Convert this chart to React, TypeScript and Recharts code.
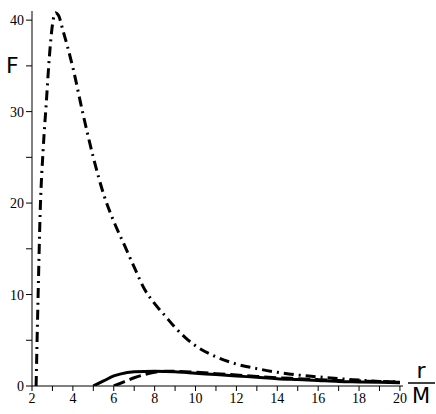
import React from 'react';
import { Line, LineChart, XAxis, YAxis } from 'recharts';

// r/M values and F for the three curves
const dashDotR = [2.2, 2.3, 2.4, 2.55, 2.7, 2.85, 3.0, 3.15, 3.3, 3.5, 4, 4.5, 5, 5.5, 6, 6.5, 7, 7.5, 8, 8.5, 9, 9.5, 10, 11, 12, 13, 14, 15, 16, 17, 18, 19, 20];
const dashDotF = [0, 10, 19, 26, 31, 36, 39.5, 40.8, 40.5, 39, 34.8, 29.7, 25, 21, 18, 15.5, 13, 10.6, 9.0, 7.7, 6.4, 5.3, 4.4, 3.2, 2.4, 1.9, 1.5, 1.2, 1.0, 0.8, 0.65, 0.5, 0.4];

const solidR = [5, 5.5, 6, 6.3, 7, 8, 9, 10, 11, 12, 13, 14, 15, 16, 17, 18, 19, 20];
const solidF = [0, 0.55, 1.1, 1.3, 1.55, 1.6, 1.55, 1.4, 1.25, 1.1, 0.95, 0.8, 0.7, 0.6, 0.5, 0.45, 0.4, 0.35];

const dashedR = [6, 6.5, 7, 7.5, 8, 8.5, 9, 10, 11, 12, 13, 14, 15, 16, 17, 18, 19, 20];
const dashedF = [0, 0.45, 0.9, 1.25, 1.5, 1.6, 1.6, 1.5, 1.35, 1.2, 1.05, 0.9, 0.8, 0.7, 0.6, 0.55, 0.5, 0.45];

const xTicks = [2, 3, 4, 5, 6, 7, 8, 9, 10, 11, 12, 13, 14, 15, 16, 17, 18, 19, 20];
const yTicks = [0, 5, 10, 15, 20, 25, 30, 35, 40];

const toPoints = (rs: number[], fs: number[]) => rs.map((r, i) => ({ r, F: fs[i] }));

const dashDot = toPoints(dashDotR, dashDotF);
const solid = toPoints(solidR, solidF);
const dashed = toPoints(dashedR, dashedF);

const tickStyle = { fontFamily: '"Liberation Serif", serif', fontSize: 14, fill: '#000' };
const labelFont = '"DejaVu Sans", sans-serif';

export default function App() {
  return (
    <div style={{ position: 'absolute', left: 0, top: 0, width: 436, height: 414, background: '#fff' }}>
      <LineChart width={436} height={414} margin={{ top: 11, right: 33, bottom: 0, left: 0 }}>
        <XAxis
          type="number"
          dataKey="r"
          domain={[2, 20.15]}
          ticks={xTicks}
          tickFormatter={(v) => (v % 2 === 0 ? String(v) : '')}
          allowDataOverflow
          height={28}
          tickSize={5}
          tick={tickStyle}
          stroke="#000"
          tickLine={{ stroke: '#000' }}
        />
        <YAxis
          type="number"
          dataKey="F"
          domain={[0, 41]}
          ticks={yTicks}
          tickFormatter={(v) => (v % 10 === 0 ? String(v) : '')}
          allowDataOverflow
          width={32}
          tickSize={6}
          tick={tickStyle}
          stroke="#000"
          tickLine={{ stroke: '#000' }}
        />
        <Line data={dashDot} dataKey="F" type="monotone" stroke="#000" strokeWidth={3} strokeDasharray="10 5 2 5" dot={false} isAnimationActive={false} />
        <Line data={solid} dataKey="F" type="monotone" stroke="#000" strokeWidth={3} dot={false} isAnimationActive={false} />
        <Line data={dashed} dataKey="F" type="monotone" stroke="#000" strokeWidth={3} strokeDasharray="12 5" dot={false} isAnimationActive={false} />
      </LineChart>
      <svg width={436} height={414} style={{ position: 'absolute', left: 0, top: 0, pointerEvents: 'none' }}>
        <text x={6} y={73} fontFamily={labelFont} fontSize={22} fill="#000">F</text>
        <text x={421} y={378} textAnchor="middle" fontFamily={labelFont} fontSize={22} fill="#000">r</text>
        <line x1={408} x2={435} y1={383} y2={383} stroke="#000" strokeWidth={1.5} />
        <text x={421} y={403} textAnchor="middle" fontFamily={labelFont} fontSize={21} fill="#000">M</text>
      </svg>
    </div>
  );
}
